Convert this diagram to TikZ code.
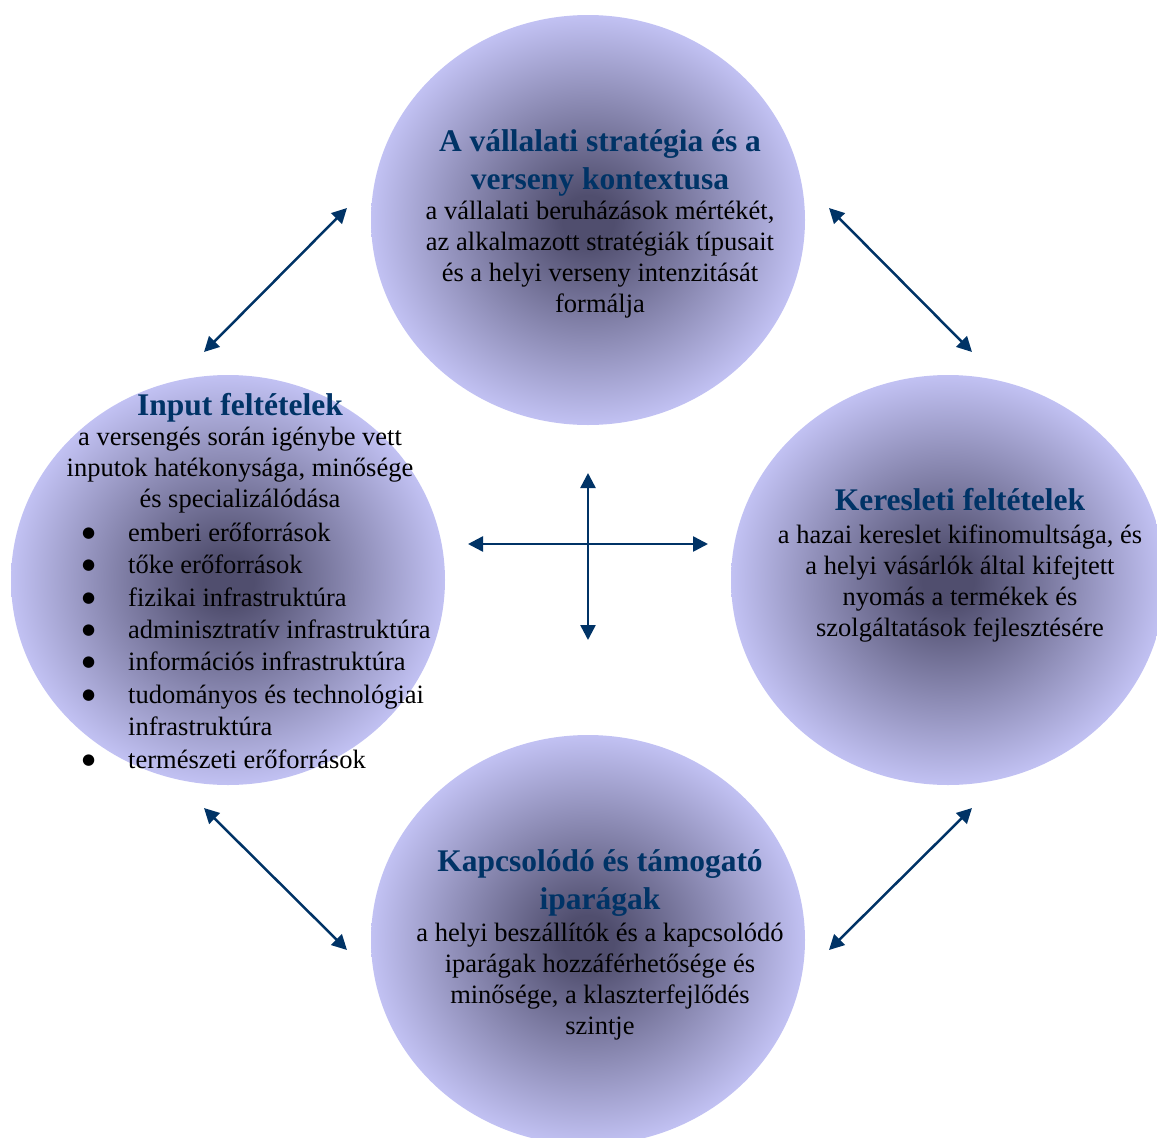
\documentclass[tikz,border=0pt]{standalone}
\usepackage{fontspec}
\setmainfont{Liberation Serif}
\newfontfamily\dotfont{DejaVu Sans}
\usetikzlibrary{shapes.geometric, arrows.meta, positioning}
\definecolor{portblue}{RGB}{0,51,102}
\definecolor{portcore}{RGB}{80,78,110}
\definecolor{portrim}{RGB}{204,204,255}
\pgfdeclareradialshading{porterglow}{\pgfpoint{0bp}{0bp}}{color(0bp)=(portcore); color(3bp)=(portcore); color(27bp)=(portrim); color(50bp)=(portrim)}
\newcommand{\listdot}{\makebox[45pt][l]{\hspace*{-1pt}\raisebox{4pt}{\dotfont\fontsize{15}{15}\selectfont ●}}}

\begin{document}
\begin{tikzpicture}[x=1pt, y=-1pt, >={Triangle[length=15pt,width=15pt]}]
  \tikzset{
    porter/.style={ellipse, shade, shading=porterglow, minimum width=434pt, minimum height=410pt, inner sep=0pt},
    headtext/.style={font=\fontsize{31.5}{38}\selectfont\bfseries, text=portblue, align=center, inner sep=0pt, anchor=base},
    bodytext/.style={font=\fontsize{26.5}{30.8}\selectfont, align=center, inner sep=0pt, anchor=base},
    listtext/.style={font=\fontsize{26.5}{32.4}\selectfont, align=left, inner sep=0pt, anchor=base west},
    linkarrow/.style={<->, line width=2.5pt, draw=portblue}
  }
  % page frame, the circles are cut at its edges
  \path[use as bounding box, clip] (0,0) rectangle (1157,1138);

  % The four circles
  \node[porter] (strategy) at (588,220) {};
  \node[porter] (input) at (228,580) {};
  \node[porter] (demand) at (948,580) {};
  \node[porter] (related) at (588,940) {};

  % Top circle texts (placed by the baseline of their last line)
  \node[headtext] (strategyhead) at (600,189) {A vállalati stratégia és a\\verseny kontextusa};
  \node[bodytext] (strategybody) at (600,312) {a vállalati beruházások mértékét,\\az alkalmazott stratégiák típusait\\és a helyi verseny intenzitását\\formálja};

  % Left circle texts
  \node[headtext] (inputhead) at (240,415) {Input feltételek};
  \node[bodytext] (inputbody) at (240,507) {a versengés során igénybe vett\\inputok hatékonysága, minősége\\és specializálódása};
  \node[listtext] (inputlist) at (83,768) {\listdot emberi erőforrások\\\listdot tőke erőforrások\\\listdot fizikai infrastruktúra\\\listdot adminisztratív infrastruktúra\\\listdot információs infrastruktúra\\\listdot tudományos és technológiai\\\hspace*{45pt}infrastruktúra\\\listdot természeti erőforrások};

  % Right circle texts
  \node[headtext] (demandhead) at (960,510) {Keresleti feltételek};
  \node[bodytext] (demandbody) at (960,636) {a hazai kereslet kifinomultsága, és\\a helyi vásárlók által kifejtett\\nyomás a termékek és\\szolgáltatások fejlesztésére};

  % Bottom circle texts
  \node[headtext] (relatedhead) at (600,909) {Kapcsolódó és támogató\\iparágak};
  \node[bodytext] (relatedbody) at (600,1034) {a helyi beszállítók és a kapcsolódó\\iparágak hozzáférhetősége és\\minősége, a klaszterfejlődés\\szintje};

  % Arrow ends
  \coordinate (tlA) at (204,352);
  \coordinate (tlB) at (347,208);
  \coordinate (trA) at (829,208);
  \coordinate (trB) at (972,352);
  \coordinate (blA) at (204,808);
  \coordinate (blB) at (347,950);
  \coordinate (brA) at (829,950);
  \coordinate (brB) at (972,808);
  \coordinate (hubW) at (468,544);
  \coordinate (hubE) at (708,544);
  \coordinate (hubN) at (588,473);
  \coordinate (hubS) at (588,640);

  % Arrows
  \draw[linkarrow] (tlA) -- (tlB);
  \draw[linkarrow] (trA) -- (trB);
  \draw[linkarrow] (blA) -- (blB);
  \draw[linkarrow] (brA) -- (brB);
  \draw[linkarrow] (hubW) -- (hubE);
  \draw[linkarrow] (hubN) -- (hubS);
\end{tikzpicture}
\end{document}
